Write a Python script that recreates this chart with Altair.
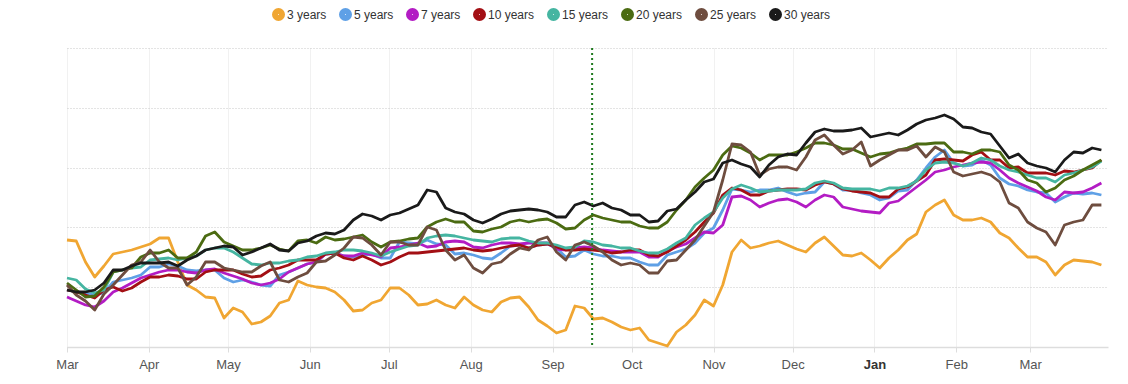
import altair as alt
import pandas as pd

# Half-weekly observation dates (Mar 2022 - Mar 2023)
dates = pd.date_range("2022-03-01", periods=113, freq="84h").strftime("%Y-%m-%dT%H:%M:%S").tolist()

series_names = ["3 years", "5 years", "7 years", "10 years", "15 years", "20 years", "25 years", "30 years"]
series_colors = ["#f0a632", "#5fa0e6", "#b31cc4", "#a30f14", "#45b5a1", "#4b6b12", "#6e4d3f", "#1a1a1a"]

# Values in chart units (unlabelled y axis, 0 at the baseline)
y3 = [107, 106, 85, 70, 81, 93, 95, 97, 100, 103, 109, 109, 85, 62, 57, 50, 49, 29, 39, 35,
      23, 25, 31, 44, 47, 66, 62, 60, 59, 55, 47, 36, 37, 44, 47, 59, 59, 52, 42, 43,
      47, 42, 39, 50, 42, 37, 35, 45, 49, 50, 40, 27, 21, 14, 17, 41, 39, 28, 29, 25,
      20, 17, 19, 7, 4, 1, 15, 22, 32, 47, 41, 62, 95, 107, 99, 101, 104, 106, 102, 98,
      95, 104, 110, 101, 92, 91, 94, 87, 79, 89, 97, 107, 113, 135, 142, 147, 132, 127, 127, 129,
      125, 114, 109, 99, 90, 90, 85, 72, 82, 87, 86, 85, 82]
y5 = [57, 55, 54, 52, 54, 65, 67, 69, 72, 80, 80, 83, 81, 77, 76, 77, 77, 69, 65, 67,
      65, 62, 61, 72, 75, 79, 83, 85, 93, 94, 91, 90, 92, 93, 89, 89, 105, 104, 103, 107,
      103, 102, 93, 94, 92, 89, 88, 94, 101, 102, 99, 102, 103, 99, 90, 91, 97, 93, 91, 91,
      89, 89, 85, 82, 82, 92, 95, 98, 104, 114, 119, 137, 158, 157, 155, 157, 157, 159, 155, 152,
      154, 155, 165, 163, 157, 157, 154, 152, 147, 149, 156, 157, 167, 179, 190, 197, 184, 181, 182, 187,
      182, 169, 163, 161, 157, 155, 154, 145, 150, 154, 153, 154, 152]
y7 = [50, 46, 42, 40, 46, 55, 59, 64, 69, 72, 75, 77, 77, 75, 74, 77, 78, 74, 71, 68,
      64, 62, 64, 68, 75, 79, 83, 85, 93, 94, 91, 91, 94, 92, 90, 99, 100, 102, 104, 100,
      101, 105, 106, 105, 100, 99, 102, 104, 104, 103, 104, 104, 104, 98, 97, 99, 100, 99, 97, 96,
      95, 95, 95, 90, 90, 96, 100, 103, 109, 115, 114, 122, 150, 151, 147, 140, 144, 147, 148, 145,
      140, 147, 152, 150, 140, 138, 136, 135, 134, 144, 146, 153, 160, 167, 175, 177, 180, 182, 184, 185,
      184, 177, 169, 164, 160, 156, 150, 147, 155, 154, 155, 159, 164]
y10 = [57, 55, 52, 49, 57, 60, 56, 59, 65, 70, 70, 72, 71, 68, 68, 75, 77, 77, 77, 73,
       70, 71, 77, 79, 82, 87, 87, 87, 93, 94, 89, 87, 91, 87, 82, 85, 90, 94, 94, 95,
       96, 97, 98, 99, 97, 96, 97, 99, 101, 102, 99, 102, 103, 100, 97, 97, 98, 97, 96, 94,
       95, 97, 97, 92, 91, 95, 101, 107, 115, 125, 134, 152, 159, 157, 152, 152, 156, 157, 158, 158,
       157, 162, 165, 163, 158, 156, 155, 154, 150, 150, 158, 160, 166, 172, 187, 188, 187, 186, 192, 195,
       187, 187, 179, 180, 174, 174, 174, 172, 176, 175, 177, 179, 187]
y15 = [69, 67, 58, 54, 57, 75, 77, 79, 80, 87, 88, 89, 87, 89, 91, 97, 99, 99, 95, 89,
       83, 82, 84, 84, 86, 87, 90, 91, 94, 95, 97, 97, 96, 94, 91, 95, 98, 101, 102, 109,
       111, 112, 111, 109, 107, 106, 105, 108, 109, 109, 106, 104, 104, 102, 99, 100, 106, 105, 102, 101,
       99, 99, 96, 94, 94, 98, 104, 109, 122, 129, 135, 149, 158, 162, 159, 155, 156, 157, 157, 157,
       158, 164, 166, 164, 159, 158, 158, 158, 156, 159, 159, 161, 166, 177, 184, 185, 184, 181, 184, 189,
       187, 181, 177, 175, 172, 169, 169, 165, 172, 174, 177, 180, 186]
y20 = [64, 57, 50, 51, 60, 75, 77, 79, 90, 94, 94, 97, 89, 89, 95, 111, 115, 105, 101, 97,
       97, 99, 102, 98, 96, 106, 107, 104, 110, 107, 108, 110, 112, 105, 100, 105, 106, 108, 109, 120,
       125, 128, 125, 125, 116, 115, 118, 120, 125, 127, 125, 127, 128, 124, 118, 119, 127, 132, 129, 127,
       125, 125, 121, 119, 119, 125, 137, 147, 160, 169, 177, 192, 201, 199, 194, 187, 192, 192, 192, 195,
       199, 204, 204, 202, 198, 198, 194, 190, 193, 194, 197, 199, 203, 203, 204, 204, 195, 195, 193, 197,
       197, 195, 182, 177, 167, 164, 155, 159, 167, 171, 177, 182, 187]
y25 = [62, 52, 46, 37, 53, 62, 72, 82, 85, 97, 85, 79, 79, 62, 70, 85, 85, 79, 77, 75,
       75, 81, 85, 67, 65, 70, 74, 85, 86, 92, 99, 110, 109, 102, 92, 105, 105, 102, 102, 120,
       117, 97, 87, 92, 79, 74, 83, 85, 93, 99, 97, 107, 110, 95, 87, 102, 105, 101, 95, 87,
       82, 84, 82, 74, 74, 86, 87, 97, 107, 121, 135, 167, 203, 202, 195, 172, 178, 180, 180, 177,
       190, 207, 212, 202, 193, 197, 205, 181, 187, 192, 197, 197, 201, 190, 200, 195, 175, 171, 173, 175,
       172, 165, 144, 139, 125, 119, 115, 102, 122, 125, 127, 142, 142]
y30 = [57, 55, 55, 57, 64, 77, 77, 81, 84, 84, 84, 85, 81, 87, 91, 97, 99, 101, 100, 92,
       95, 99, 103, 97, 96, 104, 106, 111, 114, 113, 117, 127, 133, 131, 127, 132, 134, 138, 142, 157,
       155, 139, 135, 133, 127, 124, 128, 133, 136, 137, 138, 137, 135, 130, 130, 142, 145, 141, 144, 139,
       137, 132, 132, 125, 126, 136, 138, 147, 155, 165, 168, 184, 187, 183, 180, 170, 182, 190, 193, 192,
       204, 215, 218, 216, 216, 217, 219, 210, 212, 214, 212, 217, 223, 227, 229, 232, 228, 220, 219, 215,
       213, 201, 189, 193, 184, 181, 179, 175, 187, 195, 194, 199, 197]

month_ticks = [(2022, m) for m in range(3, 13)] + [(2023, m) for m in range(1, 4)]
grid_values = [0, 59.8, 119.6, 179.4, 239.2, 299]
marker_date = "2022-09-16T00:00:00"

rows = []
for name, vals in zip(series_names, [y3, y5, y7, y10, y15, y20, y25, y30]):
    for d, v in zip(dates, vals):
        rows.append({"date": d, "value": v, "series": name})
df = pd.DataFrame(rows)

FONT = "Liberation Sans"

x_enc = alt.X(
    "date:T",
    scale=alt.Scale(domain=[alt.DateTime(year=2022, month=3, date=1),
                            alt.DateTime(year=2023, month=3, date=30, hours=12)]),
    axis=alt.Axis(
        title=None,
        values=[alt.DateTime(year=y, month=m, date=1) for y, m in month_ticks],
        format="%b",
        labelFlush=False,
        labelFont=FONT,
        labelFontSize=13,
        labelColor=alt.ExprRef(expr="month(datum.value) == 0 ? '#333333' : '#555555'"),
        labelFontWeight=alt.ExprRef(expr="month(datum.value) == 0 ? 'bold' : 'normal'"),
        labelPadding=6,
        tickSize=5,
        tickColor="#dddddd",
        domainColor="#dddddd",
        domainWidth=1.5,
        gridColor="#e3e3e3",
        gridDash=[1, 1],
        gridWidth=1,
    ),
)

lines = alt.Chart(df).mark_line(strokeWidth=2.8, strokeJoin="round").encode(
    x=x_enc,
    y=alt.Y(
        "value:Q",
        scale=alt.Scale(domain=[0, 299], nice=False, zero=False),
        axis=alt.Axis(title=None, labels=False, ticks=False, domain=False,
                      values=grid_values, gridDash=[1, 2], gridColor="#c8c8c8"),
    ),
    color=alt.Color(
        "series:N",
        sort=series_names,
        scale=alt.Scale(domain=series_names, range=series_colors),
        legend=alt.Legend(
            title=None,
            orient="none",
            legendX=205,
            legendY=-40,
            direction="horizontal",
            symbolType="circle",
            symbolSize=49,
            symbolStrokeWidth=6,
            symbolOpacity=1,
            labelFont=FONT,
            labelFontSize=12,
            labelColor="#333333",
            labelOffset=2,
            columnPadding=3,
        ),
    ),
)

rule = alt.Chart(pd.DataFrame({"date": [marker_date]})).mark_rule(
    color="#1f7a1f", strokeDash=[2, 3], strokeWidth=2
).encode(x="date:T")

chart = alt.layer(lines, rule).properties(
    width=1041,
    height=299,
    autosize=alt.AutoSizeParams(type="none"),
    padding={"left": 59, "top": 40, "right": 12, "bottom": 29},
).configure_view(stroke=None)

chart.save("out.html", embed_options={"renderer": "svg", "actions": False})
